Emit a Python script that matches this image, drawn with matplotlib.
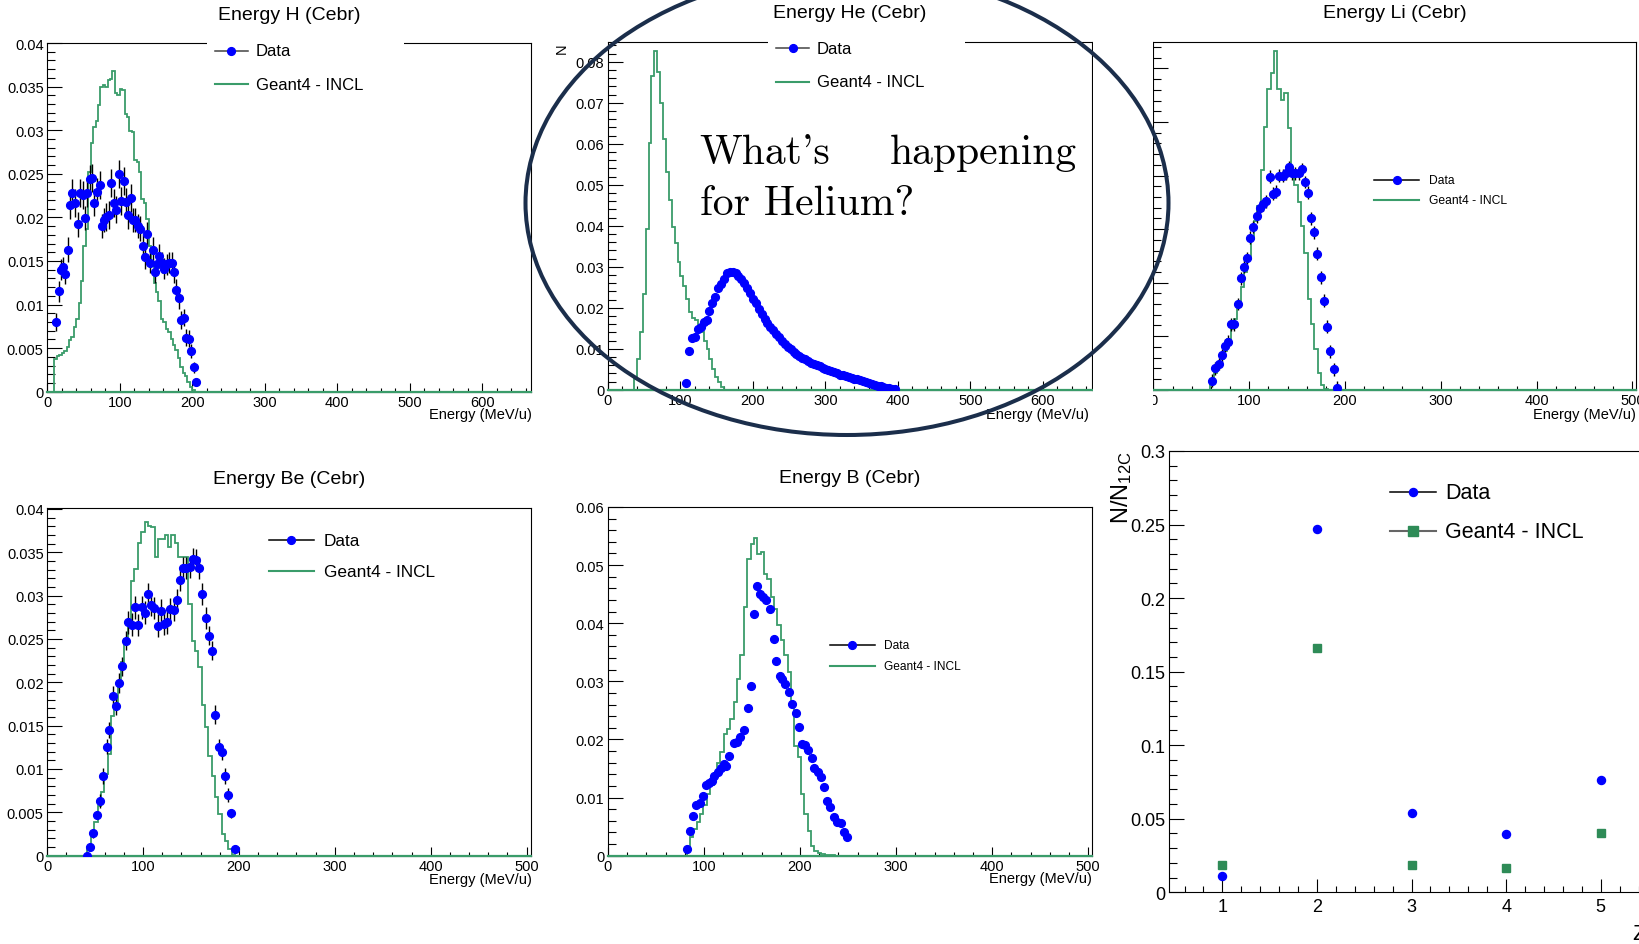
import matplotlib
matplotlib.use("Agg")
import matplotlib.pyplot as plt
import matplotlib.transforms as mtransforms
from matplotlib.patches import Ellipse, Rectangle
from matplotlib.lines import Line2D
from matplotlib.ticker import MultipleLocator, FuncFormatter
import numpy as np

plt.rcParams['font.family'] = ['Liberation Sans', 'DejaVu Sans']
plt.rcParams['mathtext.default'] = 'regular'

W, H = 1639, 945
GREEN = '#3a9c6a'
BLUE = '#0000ff'
NAVY = '#1b2e4b'

# ---------------- Energy H (Cebr) ----------------
h_data_x = [11.9, 15.7, 18.5, 21.8, 25.2, 28.5, 31.8, 34.7, 38.4, 41.8, 45.1, 48.9, 51.7, 55.1, 58.4,
            62.2, 65.0, 68.4, 72.1, 75.5, 78.3, 81.6, 85.4, 88.3, 91.6, 94.9, 98.3, 101.6, 105.4, 108.2,
            112.0, 115.3, 118.2, 121.5, 124.8, 128.2, 131.5, 134.8, 138.1, 141.5, 145.2, 148.1, 151.4,
            154.7, 158.1, 161.4, 164.7, 168.1, 171.4, 175.2, 178.0, 181.3, 185.1, 188.9, 191.8, 195.1,
            198.4, 201.7, 205.1]
h_data_y = [0.0080, 0.0115, 0.0140, 0.0143, 0.0135, 0.0163, 0.0214, 0.0228, 0.0216, 0.0192, 0.0228,
            0.0226, 0.0199, 0.0228, 0.0244, 0.0245, 0.0217, 0.0229, 0.0237, 0.0190, 0.0197, 0.0200,
            0.0203, 0.0239, 0.0216, 0.0209, 0.0250, 0.0219, 0.0242, 0.0218, 0.0203, 0.0222, 0.0197,
            0.0197, 0.0190, 0.0187, 0.0167, 0.0155, 0.0181, 0.0148, 0.0163, 0.0137, 0.0146, 0.0156,
            0.0148, 0.0141, 0.0146, 0.0148, 0.0148, 0.0137, 0.0117, 0.0107, 0.0082, 0.0085, 0.0062,
            0.0061, 0.0047, 0.0028, 0.0011]
h_data_err = [0.0010, 0.0012, 0.0012, 0.0012, 0.0012, 0.0014, 0.0016, 0.0016, 0.0016, 0.0014,
              0.0016, 0.0016, 0.0014, 0.0016, 0.0016, 0.0016, 0.0016, 0.0016, 0.0016, 0.0014,
              0.0014, 0.0016, 0.0016, 0.0016, 0.0016, 0.0016, 0.0016, 0.0016, 0.0016, 0.0016,
              0.0016, 0.0016, 0.0014, 0.0014, 0.0014, 0.0014, 0.0014, 0.0014, 0.0014, 0.0012,
              0.0014, 0.0012, 0.0012, 0.0014, 0.0012, 0.0012, 0.0012, 0.0012, 0.0012, 0.0012,
              0.0012, 0.0012, 0.0010, 0.0010, 0.0010, 0.0010, 0.0008, 0.0006, 0.0004]
h_sim_start, h_sim_width = 10.0, 3.333
h_sim = [0.0037, 0.0041, 0.0042, 0.0044, 0.0047, 0.0051, 0.0059, 0.0063, 0.0074, 0.0083,
         0.0102, 0.0127, 0.0167, 0.0187, 0.0252, 0.0285, 0.0304, 0.0310, 0.0329, 0.0349,
         0.0352, 0.0350, 0.0357, 0.0359, 0.0368, 0.0343, 0.0340, 0.0347, 0.0346, 0.0319,
         0.0315, 0.0299, 0.0298, 0.0266, 0.0264, 0.0252, 0.0221, 0.0216, 0.0198, 0.0167,
         0.0148, 0.0125, 0.0114, 0.0104, 0.0083, 0.0080, 0.0072, 0.0068, 0.0060, 0.0053,
         0.0048, 0.0039, 0.0028, 0.0022, 0.0018, 0.0011, 0.0005, 0.0002]

# ---------------- Energy He (Cebr) ----------------
he_data_start, he_data_step = 108.0, 4.0
he_data_y = [0.0016, 0.0095, 0.0126, 0.0129, 0.0148, 0.0152, 0.0164, 0.0171, 0.0193, 0.0211,
             0.0225, 0.0247, 0.0258, 0.0270, 0.0285, 0.0288, 0.0288, 0.0284, 0.0278, 0.0270,
             0.0260, 0.0248, 0.0236, 0.0222, 0.0211, 0.0198, 0.0184, 0.0173, 0.0163, 0.0154,
             0.0145, 0.0136, 0.0128, 0.0120, 0.0112, 0.0105, 0.0099, 0.0093, 0.0088, 0.0083,
             0.0078, 0.0074, 0.0070, 0.0066, 0.0063, 0.0060, 0.0057, 0.0054, 0.0051, 0.0048,
             0.0045, 0.0042, 0.0040, 0.0037, 0.0035, 0.0033, 0.0031, 0.0029, 0.0027, 0.0025,
             0.0023, 0.0021, 0.0019, 0.0017, 0.0015, 0.0012, 0.0010, 0.0008, 0.0006, 0.0004,
             0.0003, 0.0002, 0.0001]
he_sim_start, he_sim_width = 36.0, 4.0
he_sim = [0.0026, 0.0076, 0.0141, 0.0233, 0.0393, 0.0602, 0.0766, 0.0827, 0.0774, 0.0699,
          0.0611, 0.0530, 0.0463, 0.0396, 0.0357, 0.0312, 0.0278, 0.0254, 0.0221, 0.0189,
          0.0174, 0.0171, 0.0158, 0.0140, 0.0120, 0.0099, 0.0075, 0.0050, 0.0030, 0.0018,
          0.0006]

# ---------------- Energy Li (Cebr) ----------------
li_data_x = [61.1, 64.6, 68.1, 71.5, 75.0, 78.1, 80.9, 83.7, 88.2, 91.3, 94.1, 97.6, 101.0, 104.2,
             108.0, 111.5, 114.2, 117.7, 121.2, 124.7, 128.1, 131.6, 135.1, 138.5, 141.3, 144.8,
             148.3, 151.7, 154.9, 158.3, 161.5, 164.9, 168.1, 171.2, 174.7, 178.1, 181.3, 184.7,
             188.2, 191.3]
li_data_y = [0.00084, 0.0020, 0.0024, 0.0032, 0.0041, 0.0045, 0.0061, 0.0061, 0.0080, 0.0104,
             0.0115, 0.0123, 0.0142, 0.0152, 0.0162, 0.0170, 0.0173, 0.0176, 0.0199, 0.0183,
             0.0185, 0.0200, 0.0200, 0.0202, 0.0208, 0.0202, 0.0202, 0.0202, 0.0206, 0.0194,
             0.0184, 0.0160, 0.0147, 0.0127, 0.0105, 0.0083, 0.0059, 0.0036, 0.0019, 0.0002]
li_data_err = 0.0006
li_sim_start, li_sim_width = 59.5, 3.5
li_sim = [0.0007, 0.0016, 0.0022, 0.0029, 0.0036, 0.0047, 0.0057, 0.0066, 0.0082, 0.0096,
          0.0110, 0.0122, 0.0141, 0.0158, 0.0172, 0.0205, 0.0245, 0.0281, 0.0296, 0.0316,
          0.0281, 0.0271, 0.0277, 0.0244, 0.0203, 0.0191, 0.0175, 0.0153, 0.0128, 0.0085,
          0.0061, 0.0038, 0.0016, 0.0004, 0.0001]

# ---------------- Energy Be (Cebr) ----------------
be_data_x = [41.2, 44.6, 48.1, 51.6, 55.1, 58.6, 62.0, 64.8, 68.3, 71.8, 74.9, 78.4, 81.9, 84.6,
             88.1, 91.9, 95.1, 98.5, 102.0, 105.1, 108.6, 111.8, 115.2, 118.7, 121.8, 125.0,
             128.4, 131.9, 135.0, 138.5, 142.0, 145.1, 148.6, 151.7, 155.2, 158.3, 161.8, 165.3,
             168.8, 171.9, 175.4, 178.9, 182.0, 185.5, 188.6, 191.7, 195.5]
be_data_y = [0.0, 0.00104, 0.00258, 0.00469, 0.00635, 0.00916, 0.01258, 0.01450, 0.01846, 0.01727,
             0.01992, 0.02185, 0.02481, 0.02692, 0.02665, 0.02865, 0.02661, 0.02865, 0.02804,
             0.03019, 0.02896, 0.02858, 0.02654, 0.02827, 0.02673, 0.02692, 0.02846, 0.02838,
             0.02950, 0.03185, 0.03319, 0.03319, 0.03327, 0.03423, 0.03412, 0.03319, 0.03019,
             0.02742, 0.02535, 0.02362, 0.01627, 0.01258, 0.01192, 0.00919, 0.00700, 0.00488,
             0.00077]
be_data_err = [0.0003, 0.0004, 0.0005, 0.0005, 0.0008, 0.0009, 0.0009, 0.0009, 0.0011, 0.0011,
               0.0011, 0.0011, 0.0011, 0.0013, 0.0013, 0.0013, 0.0013, 0.0013, 0.0013, 0.0013,
               0.0013, 0.0013, 0.0013, 0.0013, 0.0013, 0.0013, 0.0013, 0.0013, 0.0013, 0.0013,
               0.0013, 0.0013, 0.0013, 0.0013, 0.0013, 0.0013, 0.0013, 0.0013, 0.0011, 0.0011,
               0.0011, 0.0009, 0.0009, 0.0009, 0.0008, 0.0005, 0.0004]
be_sim_start, be_sim_width = 42.0, 3.5
be_sim = [0.00096, 0.00212, 0.00385, 0.00577, 0.00731, 0.00942, 0.01173, 0.01615, 0.01712, 0.01981,
          0.02231, 0.02500, 0.02711, 0.03173, 0.03308, 0.03604, 0.03731, 0.03846, 0.03808, 0.03796,
          0.03442, 0.03654, 0.03654, 0.03704, 0.03558, 0.03704, 0.03604, 0.03450, 0.03442, 0.03442,
          0.02904, 0.02481, 0.02365, 0.02173, 0.01742, 0.01481, 0.01154, 0.00923, 0.00673, 0.00481,
          0.00250, 0.00173, 0.00077, 0.00012]

# ---------------- Energy B (Cebr) ----------------
b_data_x = [82.2, 85.7, 88.4, 91.9, 95.4, 98.9, 102.3, 105.1, 107.9, 110.7, 114.2, 117.6, 120.4,
            123.2, 126.0, 130.9, 134.3, 137.8, 142.0, 145.5, 148.9, 152.4, 155.2, 158.7, 161.5,
            164.9, 169.1, 172.6, 175.4, 178.8, 181.6, 184.4, 188.6, 192.1, 195.5, 199.0, 202.5,
            205.3, 208.7, 212.2, 215.0, 218.5, 221.3, 224.7, 228.2, 231.7, 235.2, 238.6, 242.8,
            245.3, 248.9]
b_data_y = [0.00115, 0.00431, 0.00678, 0.00873, 0.00907, 0.01033, 0.01217, 0.01252, 0.01292,
            0.01378, 0.01435, 0.01504, 0.01579, 0.01550, 0.01711, 0.01935, 0.01963, 0.02038,
            0.02164, 0.02537, 0.02916, 0.04163, 0.04639, 0.04507, 0.04450, 0.04393, 0.04238,
            0.03721, 0.03342, 0.03090, 0.03032, 0.02958, 0.02813, 0.02613, 0.02452, 0.02211,
            0.01924, 0.01907, 0.01827, 0.01677, 0.01505, 0.01435, 0.01349, 0.01177, 0.00947,
            0.00833, 0.00660, 0.00574, 0.00560, 0.00400, 0.00330]
b_data_err = 0.0004
b_sim_start, b_sim_width = 82.0, 3.5
b_sim = [0.00144, 0.00316, 0.00459, 0.00586, 0.00718, 0.00873, 0.01062, 0.01217, 0.01424, 0.01596,
         0.01792, 0.02096, 0.02182, 0.02354, 0.02641, 0.03043, 0.03445, 0.04278, 0.05110, 0.05369,
         0.05466, 0.05197, 0.05225, 0.04852, 0.04766, 0.04450, 0.04249, 0.03962, 0.03704, 0.03445,
         0.03158, 0.02555, 0.01895, 0.01694, 0.01062, 0.00718, 0.00431, 0.00172, 0.00086, 0.00046,
         0.00029, 0.00017, 0.00011, 0.00006]

# ---------------- N/N12C vs Z ----------------
ratio_z = [1, 2, 3, 4, 5]
ratio_data = [0.0113, 0.247, 0.0539, 0.0399, 0.0761]
ratio_sim = [0.0184, 0.1659, 0.0184, 0.0163, 0.0401]


fig = plt.figure(figsize=(W / 100, H / 100), dpi=100)
# pixel coordinates, origin at top-left
P = mtransforms.Affine2D().scale(1 / W, -1 / H).translate(0, 1) + fig.transFigure


def axes_px(l, t, r, b):
    return fig.add_axes([l / W, 1 - b / H, (r - l) / W, (b - t) / H])


def root_style(ax, xlim, ylim, xmaj, ymaj, fs=10.5, ylen=10.7, xlen=6.7, xpad=2.5, ypad=2.5):
    ax.set_xlim(*xlim)
    ax.set_ylim(*ylim)
    ax.xaxis.set_major_locator(MultipleLocator(xmaj))
    ax.xaxis.set_minor_locator(MultipleLocator(xmaj / 5))
    ax.yaxis.set_major_locator(MultipleLocator(ymaj))
    ax.yaxis.set_minor_locator(MultipleLocator(ymaj / 5))
    fmt = FuncFormatter(lambda v, p: '%g' % round(v, 6))
    ax.xaxis.set_major_formatter(fmt)
    ax.yaxis.set_major_formatter(fmt)
    ax.tick_params(which='both', direction='in', top=False, right=False,
                   width=0.8, color='black', labelsize=fs)
    ax.tick_params(axis='y', which='major', length=ylen, pad=ypad)
    ax.tick_params(axis='y', which='minor', length=ylen * 0.53)
    ax.tick_params(axis='x', which='major', length=xlen, pad=xpad)
    ax.tick_params(axis='x', which='minor', length=xlen * 0.47)
    for s in ax.spines.values():
        s.set_linewidth(0.8)


def draw_hist(ax, start, width, counts, xmax):
    edges = start + width * np.arange(len(counts) + 1)
    ax.stairs(counts, edges, color=GREEN, lw=1.3, baseline=0, zorder=3)
    ax.plot([0, xmax], [0, 0], color=GREEN, lw=1.6, zorder=3, clip_on=False)


def draw_data(ax, x, y, err):
    ax.errorbar(x, y, yerr=err, fmt='o', ms=5.6, color=BLUE, mec=BLUE, ecolor='black',
                elinewidth=1, capsize=0, zorder=4)


def legend_px(x1, x2, y1, y2, xt, fs, data_line='#444444', sim_line=GREEN, sim_square=False, ms=5.6):
    xm = (x1 + x2) / 2
    fig.add_artist(Line2D([x1, x2], [y1, y1], transform=P, color=data_line, lw=1.1, zorder=6))
    fig.add_artist(Line2D([xm], [y1], transform=P, marker='o', ms=ms, color=BLUE, ls='none', zorder=7))
    fig.add_artist(Line2D([x1, x2], [y2, y2], transform=P, color=sim_line, lw=1.5, zorder=6))
    if sim_square:
        fig.add_artist(Line2D([xm], [y2], transform=P, marker='s', ms=ms + 0.8, color='#2e8b57',
                              ls='none', zorder=7))
    fig.text(xt, y1, 'Data', transform=P, fontsize=fs, va='center', ha='left', zorder=7)
    fig.text(xt, y2, 'Geant4 - INCL', transform=P, fontsize=fs, va='center', ha='left', zorder=7)


def title_px(x, y, s):
    fig.text(x, y, s, transform=P, fontsize=14, ha='center', va='center')


def xtitle_px(x, y):
    fig.text(x, y, 'Energy (MeV/u)', transform=P, fontsize=10.5, ha='right', va='center')


# --- H ---
ax = axes_px(47.2, 44, 531.4, 392.7)
root_style(ax, (0, 667.5), (0, 0.04), 100, 0.005)
draw_hist(ax, h_sim_start, h_sim_width, h_sim, 667.5)
draw_data(ax, h_data_x, h_data_y, h_data_err)
title_px(289.3, 15, 'Energy H (Cebr)')
xtitle_px(531.4, 415)
fig.add_artist(Rectangle((206.6, 36), 197, 64, transform=P, facecolor='white', edgecolor='none', zorder=5))
legend_px(214.6, 248, 51.7, 85, 255.5, 12)

# --- He ---
ax = axes_px(607.9, 42.7, 1091.5, 390.7)
root_style(ax, (0, 667), (0, 0.0849), 100, 0.01)
draw_hist(ax, he_sim_start, he_sim_width, he_sim, 667)
he_data_x = he_data_start + he_data_step * np.arange(len(he_data_y))
ax.plot(he_data_x, he_data_y, 'o', ms=5.6, color=BLUE, zorder=4)
title_px(849.7, 14, 'Energy He (Cebr)')
xtitle_px(1089, 415)
fig.text(565.5, 43, 'N', transform=P, fontsize=10.5, rotation=90, rotation_mode='anchor',
         ha='right', va='baseline')
fig.add_artist(Rectangle((767.5, 34), 197.5, 64, transform=P, facecolor='white', edgecolor='none', zorder=5))
legend_px(775.7, 809.3, 49.3, 82.7, 816.8, 12)

# --- Li ---
ax = axes_px(1153.4, 42.7, 1636.2, 390.7)
root_style(ax, (0, 504), (0, 0.0325), 100, 0.005)
ax.tick_params(axis='y', labelleft=False)
draw_hist(ax, li_sim_start, li_sim_width, li_sim, 504)
draw_data(ax, li_data_x, li_data_y, li_data_err)
title_px(1394.8, 14, 'Energy Li (Cebr)')
xtitle_px(1636, 415)
legend_px(1374.3, 1419.1, 180.7, 201, 1428.9, 8.7, data_line='black')
# the He canvas overlaps the left edge of the Li canvas
fig.add_artist(Rectangle((1093, 0), 59.5, 430, transform=P, facecolor='white', edgecolor='none', zorder=5))

# --- Be ---
ax = axes_px(47.2, 509, 531.4, 856.7)
root_style(ax, (0, 505), (0, 0.0401), 100, 0.005)
draw_hist(ax, be_sim_start, be_sim_width, be_sim, 505)
draw_data(ax, be_data_x, be_data_y, be_data_err)
title_px(289.3, 479.3, 'Energy Be (Cebr)')
xtitle_px(531.4, 880)
legend_px(268.6, 314.1, 541, 572.3, 323.7, 12.4, data_line='black')

# --- B ---
ax = axes_px(607.9, 508, 1092.1, 856.7)
root_style(ax, (0, 504), (0, 0.06), 100, 0.01)
draw_hist(ax, b_sim_start, b_sim_width, b_sim, 504)
draw_data(ax, b_data_x, b_data_y, b_data_err)
title_px(850, 478.3, 'Energy B (Cebr)')
xtitle_px(1092, 879.3)
legend_px(829.7, 875.1, 646, 666.7, 884.4, 8.6, data_line='black')

# --- ratio vs Z ---
ax = axes_px(1168.8, 452, 1646, 893.3)
root_style(ax, (0.434, 5.478), (0, 0.3), 1, 0.05, fs=13, ylen=10.8, xlen=9.6, xpad=4, ypad=2.5)
ax.plot(ratio_z, ratio_data, 'o', ms=5.8, color=BLUE, zorder=4)
ax.plot(ratio_z, ratio_sim, 's', ms=6.4, color='#2e8b57', zorder=4)
fig.text(1128.5, 451, r'N/N$_{12C}$', transform=P, fontsize=17, rotation=90, rotation_mode='anchor',
         ha='right', va='baseline')
fig.text(1646, 935, 'Z', transform=P, fontsize=16, ha='right', va='center')
legend_px(1390.4, 1435.6, 493.3, 532.3, 1445.4, 15.5, data_line='black', sim_line='#666666',
          sim_square=True, ms=5.8)

# --- annotation over the He panel ---
fig.add_artist(Ellipse((847, 204), 643, 464, transform=P, fill=False, edgecolor=NAVY, lw=2.9, zorder=10))
fig.text(699.6, 164.3, "What's", transform=P, family='cmr10', fontsize=30, va='baseline', ha='left')
fig.text(1076.4, 164.3, 'happening', transform=P, family='cmr10', fontsize=30, va='baseline', ha='right')
fig.text(699.6, 215, 'for Helium?', transform=P, family='cmr10', fontsize=30, va='baseline', ha='left')

fig.savefig('out.png', dpi=100, facecolor='white')
